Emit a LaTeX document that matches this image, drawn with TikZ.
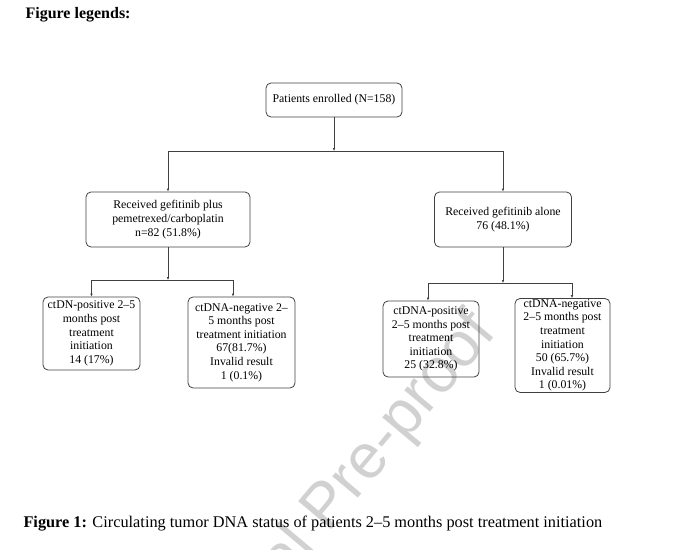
\documentclass[tikz,border=0pt]{standalone}
\usepackage{fontspec}
\setmainfont{Liberation Serif}
\newfontfamily\markfont{Liberation Sans}
\usetikzlibrary{arrows.meta}
\begin{document}
\begin{tikzpicture}[x=1pt,y=-1pt,
    box/.style={draw=black!75,line width=0.8pt,rounded corners=5pt,align=center,
      inner sep=1pt,font=\fontsize{11.8}{13.6}\selectfont},
    arr/.style={draw=black!75,line width=0.8pt,-{Latex[length=3pt,width=2.6pt]}}]
    \useasboundingbox (0,0) rectangle (680,549);
    % watermark
    \begin{scope}
    \clip (0,0) rectangle (680,549);
    \node[anchor=base east,rotate=50,text=black!18,font=\markfont\fontsize{63}{66}\selectfont] (mark) at (500,330) {Journal Pre-proof};
    \end{scope}
    \node[anchor=west,font=\fontsize{16}{18}\selectfont\bfseries] (legend) at (22,15) {Figure legends:};
    % boxes
    \node[box,minimum width=136,minimum height=34] (enrolled) at (334,100) {Patients enrolled (N=158)};
    \node[box,minimum width=164,minimum height=55] (combo) at (168,219.5) {Received gefitinib plus\\pemetrexed/carboplatin\\n=82 (51.8\%)};
    \node[box,minimum width=137,minimum height=55] (alone) at (503,219.5) {Received gefitinib alone\\76 (48.1\%)};
    \node[box,minimum width=97,minimum height=73] (pos1) at (91.5,333.5) {ctDN-positive 2--5\\months post\\treatment\\initiation\\14 (17\%)};
    \node[box,minimum width=107,minimum height=91] (neg1) at (241.5,342.5) {ctDNA-negative 2--\\5 months post\\treatment initiation\\67(81.7\%)\\Invalid result\\1 (0.1\%)};
    \node[box,minimum width=96,minimum height=76] (pos2) at (431,339) {ctDNA-positive\\2--5 months post\\treatment\\initiation\\25 (32.8\%)};
    \node[box,minimum width=95,minimum height=93] (neg2) at (562.5,345.5) {ctDNA-negative\\2--5 months post\\treatment\\initiation\\50 (65.7\%)\\Invalid result\\1 (0.01\%)};
    % connectors
    \coordinate (s0) at (334,151);
    \coordinate (s1) at (168,280);
    \coordinate (s2) at (503,283);
    \draw[arr] (enrolled) -- (s0);
    \draw[arr] (s0) -| (combo.north);
    \draw[arr] (s0) -| (alone.north);
    \draw[arr] (combo) -- (s1);
    \draw[arr] (s1) -| (pos1.north);
    \draw[arr] (s1) -| ([xshift=-8.5]neg1.north);
    \draw[arr] (alone) -- (s2);
    \draw[arr] (s2) -| ([xshift=-3]pos2.north);
    \draw[arr] (s2) -| ([xshift=9.5]neg2.north);
    \node[anchor=west,font=\fontsize{16.3}{18}\selectfont] (caption) at (20,524) {\textbf{Figure 1:} Circulating tumor DNA status of patients 2--5 months post treatment initiation};
\end{tikzpicture}
\end{document}
